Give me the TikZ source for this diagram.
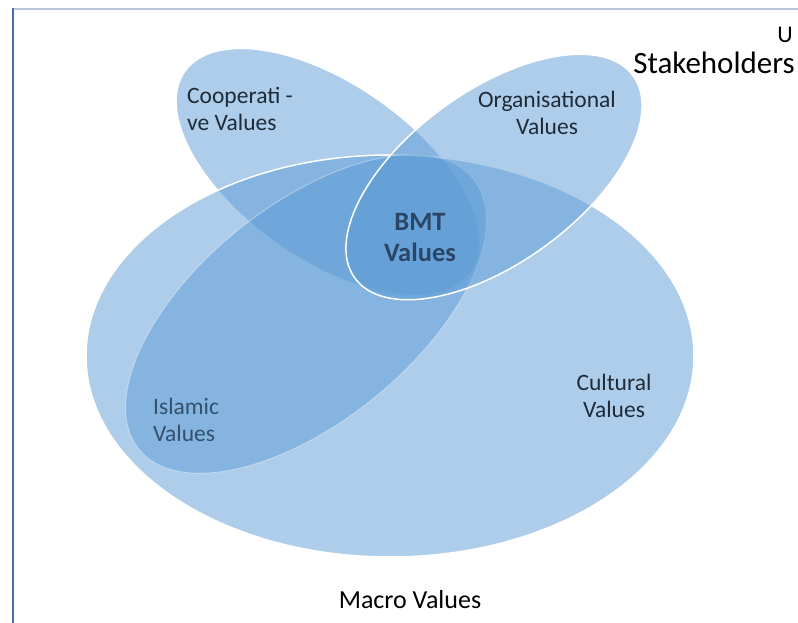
\documentclass[tikz,border=0pt]{standalone}
\usepackage{fontspec}
\setmainfont{Carlito}
\definecolor{vennblue}{HTML}{5B9BD5}
\definecolor{framelight}{HTML}{B7C5DF}
\definecolor{framedark}{HTML}{4A6BAF}
\definecolor{lbldark}{HTML}{1F2B38}
\definecolor{lblmid}{HTML}{34506E}
\definecolor{lblbmt}{HTML}{2A4565}
\begin{document}
\begin{tikzpicture}[x=1pt,y=1pt,
  venn/.style={fill=vennblue,fill opacity=.5,draw=white,line width=1.5pt},
  lbl/.style={inner sep=0pt,text=lbldark,font=\fontsize{23.5}{26.5}\selectfont}]
\useasboundingbox (0,0) rectangle (798,623);

\draw[framelight,line width=2pt] (12,614) -- (798,614);
\draw[framedark,line width=2pt] (13,615) -- (13,0);

\path[venn] (328,451) ellipse [x radius=175,y radius=88,rotate=-35];
\path[venn] (390,267) ellipse [x radius=304,y radius=201];
\path[venn,draw opacity=.35,line width=1pt] (306,309) ellipse [x radius=215,y radius=108,rotate=39];
\path[venn] (494,446) ellipse [x radius=172,y radius=86,rotate=36];

\node[lbl,align=left,anchor=west] (coop) at (187,514) {Cooperati -\\ve Values};
\node[lbl,align=center] (org) at (547,510) {Organisational\\Values};
\node[lbl,align=center,text=lblbmt,font=\bfseries\fontsize{26.5}{31}\selectfont] (bmt) at (420,385) {BMT\\Values};
\node[lbl,align=center] (cult) at (614,227) {Cultural\\Values};
\node[lbl,align=left,anchor=west,text=lblmid] (isl) at (153,203) {Islamic\\Values};

\node[lbl,text=black,font=\fontsize{26}{30}\selectfont] (macro) at (410,23) {Macro Values};
\node[lbl,text=black,anchor=east,font=\fontsize{31}{35}\selectfont] (stake) at (795,560) {Stakeholders};
\node[lbl,text=black,anchor=east,font=\fontsize{24}{28}\selectfont] (u) at (793,588) {U};

\end{tikzpicture}
\end{document}
